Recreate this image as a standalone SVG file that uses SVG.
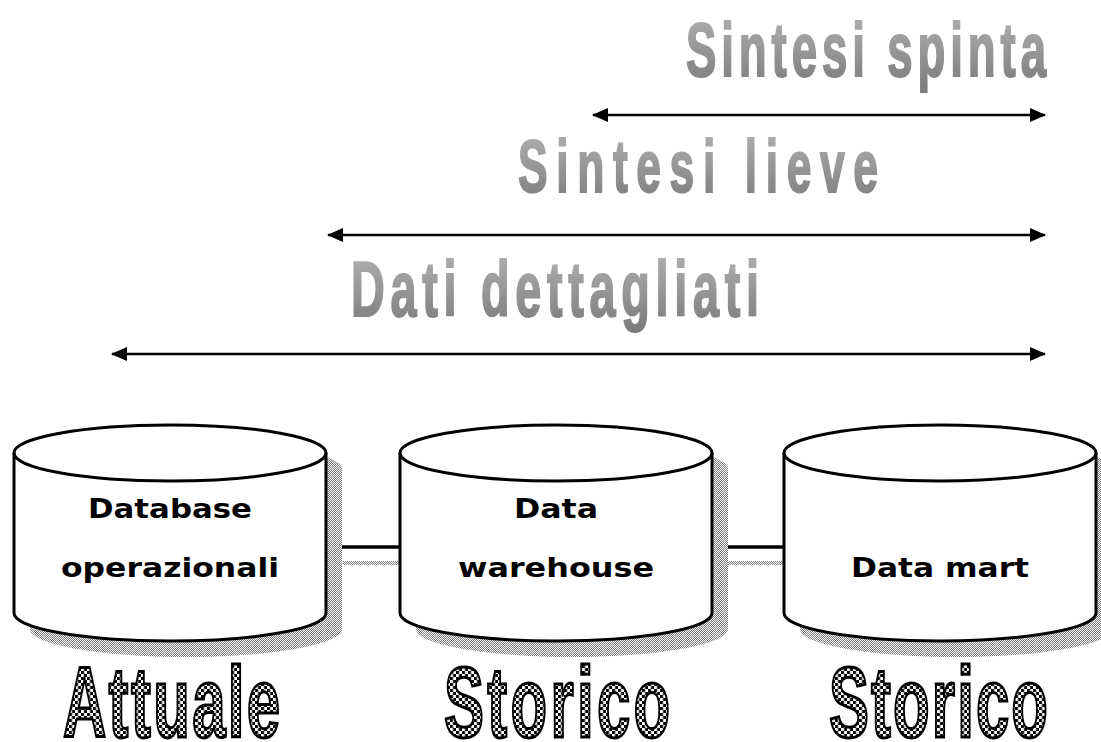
<svg xmlns="http://www.w3.org/2000/svg" width="1101" height="742" viewBox="0 0 1101 742">
  <defs>
    <linearGradient id="greyFade" x1="0" y1="0" x2="0" y2="1">
      <stop offset="0" stop-color="#b4b4b4"/>
      <stop offset="1" stop-color="#7a7a7a"/>
    </linearGradient>
    <!-- fine grey checker used for drop shadows -->
    <pattern id="shadowDots" width="2" height="2" patternUnits="userSpaceOnUse">
      <rect width="2" height="2" fill="#ffffff"/>
      <rect width="1" height="1" fill="#7a7a7a"/>
      <rect x="1" y="1" width="1" height="1" fill="#7a7a7a"/>
    </pattern>
    <!-- coarse black checker used inside the outlined captions -->
    <pattern id="letterChecker" width="6" height="6" patternUnits="userSpaceOnUse" patternTransform="scale(1.667,1)">
      <rect width="6" height="6" fill="#ffffff"/>
      <rect width="3" height="3" fill="#000000"/>
      <rect x="3" y="3" width="3" height="3" fill="#000000"/>
    </pattern>
    <marker id="head" viewBox="0 0 16 14" refX="15" refY="7" markerWidth="16" markerHeight="14" markerUnits="userSpaceOnUse" orient="auto-start-reverse">
      <path d="M0,0 L16,7 L0,14 Z" fill="#000"/>
    </marker>
    <!-- cylinder body, centred on x=0 -->
    <path id="cylBody" d="M-156,0 A156,28 0 0 1 156,0 L156,160 A156,28 0 0 1 -156,160 Z"/>
  </defs>
  <style>
    .title { font-family: "Liberation Sans", Arial, sans-serif; font-weight: bold; fill: url(#greyFade); stroke: url(#greyFade); stroke-width: 2; }
    .span { stroke: #000; stroke-width: 2.5; fill: none; }
    .cyl { fill: #fff; stroke: #000; stroke-width: 3; }
    .shadow { fill: url(#shadowDots); }
    .label { font-family: "DejaVu Sans", Verdana, sans-serif; font-weight: bold; font-size: 27px; fill: #000; text-anchor: middle; }
    .caption { font-family: "Liberation Sans", Arial, sans-serif; font-weight: bold; font-size: 100px; fill: url(#letterChecker); stroke: #000; stroke-width: 3; }
    .link { stroke: #000; stroke-width: 3.5; }
  </style>

  <!-- granularity headings -->
  <g id="heading-spinta">
    <text class="title" transform="translate(686,76) scale(0.6,1)" font-size="76" textLength="600" lengthAdjust="spacing">Sintesi spinta</text>
  </g>
  <g id="heading-lieve">
    <text class="title" transform="translate(518,192) scale(0.6,1)" font-size="74" textLength="600" lengthAdjust="spacing">Sintesi lieve</text>
  </g>
  <g id="heading-dettagliati">
    <text class="title" transform="translate(351,316) scale(0.6,1)" font-size="78" textLength="680" lengthAdjust="spacing">Dati dettagliati</text>
  </g>

  <!-- span arrows and links between stores -->
  <g id="connectors">
    <line class="span" x1="593" y1="115" x2="1045" y2="115" marker-start="url(#head)" marker-end="url(#head)"/>
    <line class="span" x1="328" y1="235" x2="1045" y2="235" marker-start="url(#head)" marker-end="url(#head)"/>
    <line class="span" x1="112" y1="354" x2="1045" y2="354" marker-start="url(#head)" marker-end="url(#head)"/>
    <rect class="shadow" x="343" y="561" width="56" height="4"/>
    <rect class="shadow" x="728" y="561" width="55" height="4"/>
    <line class="link" x1="327" y1="547" x2="399" y2="547"/>
    <line class="link" x1="712" y1="547" x2="783" y2="547"/>
  </g>

  <!-- data stores -->
  <g id="store-operazionali">
    <use href="#cylBody" class="shadow" transform="translate(186,469)"/>
    <use href="#cylBody" class="cyl" transform="translate(170,453)"/>
    <path d="M14,453 A156,28 0 0 0 326,453" fill="none" stroke="#000" stroke-width="3"/>
    <text class="label" x="170" y="518" textLength="164" lengthAdjust="spacingAndGlyphs">Database</text>
    <text class="label" x="170" y="577" textLength="218" lengthAdjust="spacingAndGlyphs">operazionali</text>
  </g>
  <g id="store-warehouse">
    <use href="#cylBody" class="shadow" transform="translate(572,469)"/>
    <use href="#cylBody" class="cyl" transform="translate(556,453)"/>
    <path d="M400,453 A156,28 0 0 0 712,453" fill="none" stroke="#000" stroke-width="3"/>
    <text class="label" x="556" y="518" textLength="84" lengthAdjust="spacingAndGlyphs">Data</text>
    <text class="label" x="556" y="577" textLength="196" lengthAdjust="spacingAndGlyphs">warehouse</text>
  </g>
  <g id="store-mart">
    <use href="#cylBody" class="shadow" transform="translate(956,469)"/>
    <use href="#cylBody" class="cyl" transform="translate(940,453)"/>
    <path d="M784,453 A156,28 0 0 0 1096,453" fill="none" stroke="#000" stroke-width="3"/>
    <text class="label" x="940" y="577" textLength="178" lengthAdjust="spacingAndGlyphs">Data mart</text>
  </g>

  <!-- time captions -->
  <g id="caption-attuale">
    <text class="caption" transform="translate(63,737) scale(0.6,1)" textLength="362" lengthAdjust="spacing">Attuale</text>
  </g>
  <g id="caption-storico-dw">
    <text class="caption" transform="translate(444,737) scale(0.6,1)" textLength="377" lengthAdjust="spacing">Storico</text>
  </g>
  <g id="caption-storico-dm">
    <text class="caption" transform="translate(829,737) scale(0.6,1)" textLength="365" lengthAdjust="spacing">Storico</text>
  </g>
</svg>
